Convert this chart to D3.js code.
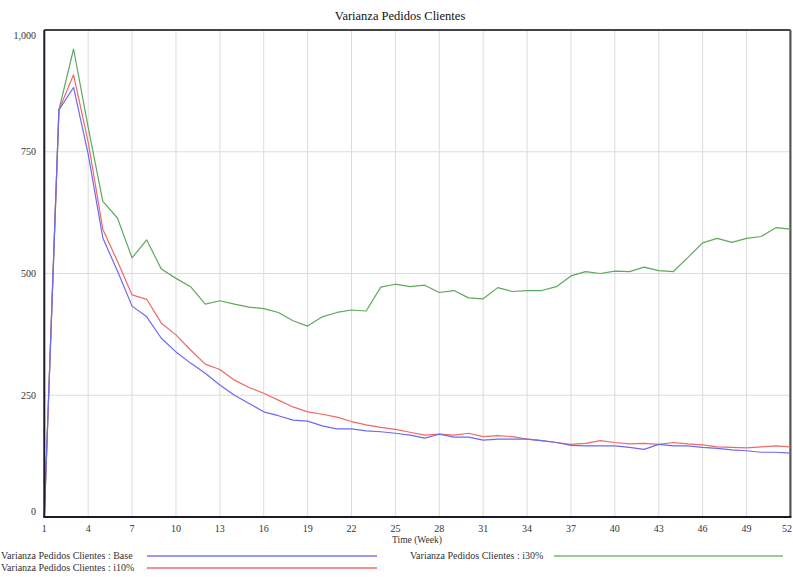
<!DOCTYPE html>
<html>
<head>
<meta charset="utf-8">
<script src="https://cdn.jsdelivr.net/npm/d3@7"></script>
<style>
  html, body { margin: 0; padding: 0; background: #fff; overflow: hidden; }
  svg { display: block; font-family: "Liberation Serif", "DejaVu Serif", serif; }
</style>
</head>
<body>
<svg id="chart" width="793" height="577"></svg>
<script>
const weeks = [1,2,3,4,5,6,7,8,9,10,11,12,13,14,15,16,17,18,19,20,21,22,23,24,25,26,
  27,28,29,30,31,32,33,34,35,36,37,38,39,40,41,42,43,44,45,46,47,48,49,50,51,52];
const base = [0,836,882,745,573,505,433,411,367,339,316,295,271,250,233,216,208,199,197,187,181,181,177,175,172,168,
  162,170,164,164,158,160,160,160,157,153,147,146,146,146,143,139,149,146,146,143,141,138,136,133,133,131];
const i10 = [0,836,908,770,591,525,456,447,398,374,343,314,303,281,266,254,240,226,216,211,205,196,189,184,180,174,
  168,170,168,172,165,167,165,160,157,153,149,151,157,153,150,151,149,153,150,148,144,143,142,144,146,144];
const i30 = [0,836,961,800,648,614,532,569,509,490,473,437,444,437,431,428,420,403,392,411,420,425,423,472,478,473,
  476,461,465,450,448,471,463,465,465,473,495,504,500,505,504,513,506,504,533,563,572,564,572,576,594,591];
const xTicks = [1,4,7,10,13,16,19,22,25,28,31,34,37,40,43,46,49,52];
const yTicks = [0,250,500,750,1000];
const seriesNames = ["Varianza Pedidos Clientes : Base", "Varianza Pedidos Clientes : i10%", "Varianza Pedidos Clientes : i30%"];
const title = "Varianza Pedidos Clientes";
const xLabel = "Time (Week)";

const colors = ["#6a6af2", "#f06868", "#5ea85e"];
const legendColors = ["#9a9af4", "#f49090", "#94cc94"];

const svg = d3.select("#chart");
const L = 44.3, R = 790.4, T = 30, B = 517;
const x = d3.scaleLinear().domain([1, 52]).range([L, R]);
const y = d3.scaleLinear().domain([0, 1000]).range([B, T]);

// title
svg.append("text").attr("x", 400).attr("y", 20).attr("text-anchor", "middle")
  .attr("font-size", 12.5).attr("fill", "#111").text(title);

// grid
const grid = svg.append("g");
grid.selectAll("line.v").data(xTicks.filter(d => d !== 1 && d !== 52)).join("line")
  .attr("x1", d => x(d)).attr("x2", d => x(d)).attr("y1", T).attr("y2", B)
  .attr("stroke", "#dcdcdc").attr("stroke-width", 1);
grid.selectAll("line.h").data(yTicks.filter(d => d !== 0 && d !== 1000)).join("line")
  .attr("x1", L).attr("x2", R).attr("y1", d => y(d)).attr("y2", d => y(d))
  .attr("stroke", "#dcdcdc").attr("stroke-width", 1);

// frame
svg.append("line").attr("x1", L).attr("x2", R).attr("y1", T).attr("y2", T)
  .attr("stroke", "#444").attr("stroke-width", 1.8);
svg.append("line").attr("x1", R).attr("x2", R).attr("y1", T).attr("y2", B)
  .attr("stroke", "#555").attr("stroke-width", 2.2);

// series
const series = [base, i10, i30];
const line = d3.line().x((d, i) => x(weeks[i])).y(d => y(d));
[2, 1, 0].forEach(k => {
  svg.append("path").datum(series[k]).attr("d", line)
    .attr("fill", "none").attr("stroke", colors[k]).attr("stroke-width", 1.2)
    .attr("stroke-linejoin", "round");
});

// axes lines
svg.append("line").attr("x1", L).attr("x2", L).attr("y1", T).attr("y2", B)
  .attr("stroke", "#1a1a2a").attr("stroke-width", 2);
svg.append("line").attr("x1", L - 1).attr("x2", R + 1).attr("y1", B).attr("y2", B)
  .attr("stroke", "#1a1a2a").attr("stroke-width", 2);

// y tick labels
const fmt = d3.format(",");
svg.append("g").selectAll("text").data(yTicks).join("text")
  .attr("x", 36).attr("text-anchor", "end")
  .attr("y", d => d === 1000 ? y(d) + 9 : (d === 0 ? y(d) - 2 : y(d) + 3.5))
  .attr("font-size", 10).attr("fill", "#333").text(d => fmt(d));

// x tick labels (last one kept inside the page edge)
svg.append("g").selectAll("text").data(xTicks).join("text")
  .attr("x", d => d === 52 ? 792 : x(d)).attr("y", 532)
  .attr("text-anchor", d => d === 52 ? "end" : "middle")
  .attr("font-size", 10).attr("fill", "#333").text(d => d);

svg.append("text").attr("x", 417).attr("y", 543).attr("text-anchor", "middle")
  .attr("font-size", 9.5).attr("fill", "#333").text(xLabel);

// legend
const legendPos = [
  {tx: 1, ty: 559, x1: 147, x2: 377, ly: 556},
  {tx: 1, ty: 571, x1: 147, x2: 377, ly: 568},
  {tx: 410, ty: 559, x1: 554, x2: 783, ly: 556}
];
const leg = svg.append("g");
seriesNames.forEach((name, k) => {
  const p = legendPos[k];
  leg.append("text").attr("x", p.tx).attr("y", p.ty).attr("text-anchor", "start")
    .attr("font-size", 10).attr("fill", "#333").text(name);
  leg.append("line").attr("x1", p.x1).attr("x2", p.x2).attr("y1", p.ly).attr("y2", p.ly)
    .attr("stroke", legendColors[k]).attr("stroke-width", 2);
});
</script>
</body>
</html>
